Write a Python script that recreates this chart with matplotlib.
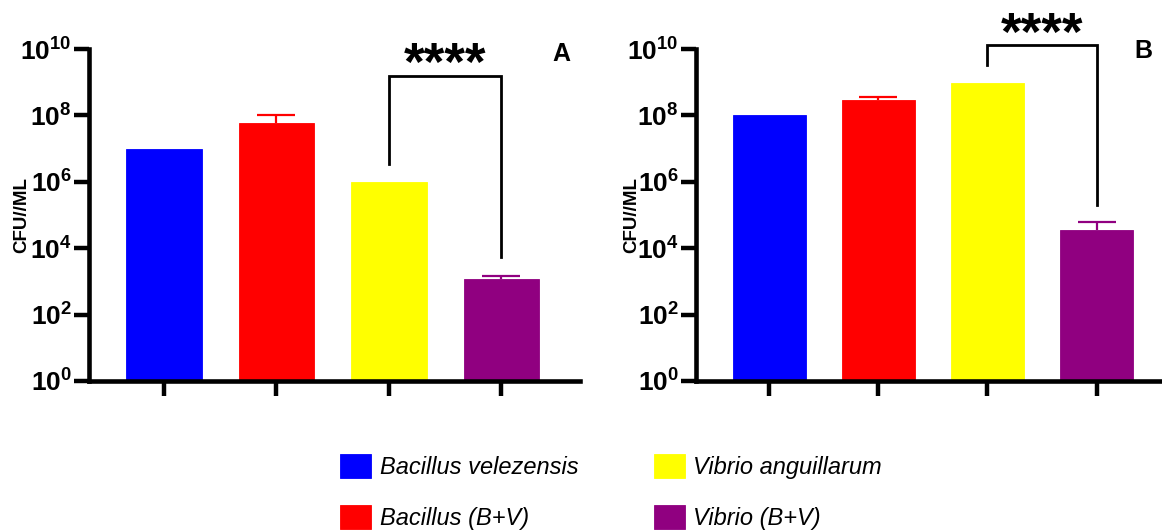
import math
import matplotlib
matplotlib.use("Agg")
import matplotlib.pyplot as plt
from matplotlib.ticker import FixedLocator, FuncFormatter, NullLocator

# ---------------- data ----------------
categories = ["Bacillus velezensis", "Bacillus (B+V)", "Vibrio anguillarum", "Vibrio (B+V)"]
colors = ["#0000FF", "#FF0000", "#FFFF00", "#900080"]

values_A = [1.0e7, 6.0e7, 1.0e6, 1.15e3]
errors_A = [0, 4.0e7, 0, 0.35e3]
values_B = [1.0e8, 3.0e8, 9.3e8, 3.5e4]
errors_B = [0, 0.6e8, 0, 2.8e4]

# significance bracket: (group i, group j, left-leg bottom, right-leg bottom, top)
bracket_A = (2, 3, 3.5e6, 5.5e3, 1.5e9)
bracket_B = (2, 3, 3.3e9, 2.0e5, 1.3e10)
star_text = "****"
panel_labels = ["A", "B"]
ytick_values = [1e0, 1e2, 1e4, 1e6, 1e8, 1e10]
ylabel = "CFU//ML"

# ---------------- style ----------------
plt.rcParams["font.family"] = ["Liberation Sans", "DejaVu Sans"]
plt.rcParams["mathtext.fontset"] = "custom"
plt.rcParams["mathtext.rm"] = "Liberation Sans:bold"
plt.rcParams["mathtext.it"] = "Liberation Sans:bold"
plt.rcParams["mathtext.bf"] = "Liberation Sans:bold"

W, H = 1162, 532
fig = plt.figure(figsize=(W / 100, H / 100), dpi=100)

axA = fig.add_axes([89 / W, 1 - 381 / H, (580 - 89) / W, (381 - 49) / H])
axB = fig.add_axes([696 / W, 1 - 381 / H, (1162 - 696) / W, (381 - 49) / H])


def fmt(v, pos):
    e = int(round(math.log10(v)))
    return r"$10^{%d}$" % e


def draw_panel(ax, values, errors, bracket, label, xlim, star_y, label_y):
    ax.set_yscale("log")
    x = list(range(len(values)))
    for i in x:
        ax.bar(i, values[i], width=0.67, bottom=1, color=colors[i],
               edgecolor=colors[i], linewidth=0.6, label=categories[i], zorder=2)
        if errors[i] > 0:
            eb = ax.errorbar(i, values[i], yerr=[[0], [errors[i]]], fmt="none",
                             ecolor=colors[i], elinewidth=1.6, capsize=13.7,
                             capthick=1.6, zorder=1)
            caps = eb[1]
            if len(caps) > 0:
                caps[0].set_visible(False)
    ax.set_ylim(1, 1e10)
    ax.set_xlim(*xlim)
    ax.yaxis.set_major_locator(FixedLocator(ytick_values))
    ax.yaxis.set_minor_locator(NullLocator())
    ax.yaxis.set_major_formatter(FuncFormatter(fmt))
    ax.set_xticks(x)
    ax.set_xticklabels([""] * len(x))
    for s in ["top", "right"]:
        ax.spines[s].set_visible(False)
    for s in ["left", "bottom"]:
        ax.spines[s].set_linewidth(3.3)
    ax.tick_params(axis="both", width=3.2, length=10.5, direction="out")
    ax.tick_params(axis="y", labelsize=19, pad=2)
    ax.set_ylabel(ylabel, fontsize=13.5, fontweight="bold")
    ax.yaxis.set_label_coords(-0.12, 0.5)

    i, j, lb, rb, top = bracket
    ax.plot([i, i, j, j], [lb, top, top, rb], color="black", lw=2.0,
            solid_joinstyle="miter", clip_on=False, zorder=3)
    ax.text((i + j) / 2, star_y, star_text, ha="center", va="baseline",
            fontsize=38, fontweight="bold", clip_on=False)
    ax.text(xlim[1] - 0.17, label_y, label, ha="center", va="center",
            fontsize=18, fontweight="bold")


draw_panel(axA, values_A, errors_A, bracket_A, panel_labels[0],
           (-0.668, 3.70), 10 ** 9.08, 10 ** 9.85)
draw_panel(axB, values_B, errors_B, bracket_B, panel_labels[1],
           (-0.67, 3.60), 10 ** 9.96, 10 ** 9.95)

handles, labels = axA.get_legend_handles_labels()
fig.legend(handles, labels, loc="center", bbox_to_anchor=(611 / W, 1 - 492 / H),
           ncol=2, frameon=False, prop={"style": "italic", "size": 17},
           handlelength=1.33, handleheight=1.17, handletextpad=0.35,
           columnspacing=3.2, labelspacing=1.1)

fig.savefig("out.png", dpi=100)
